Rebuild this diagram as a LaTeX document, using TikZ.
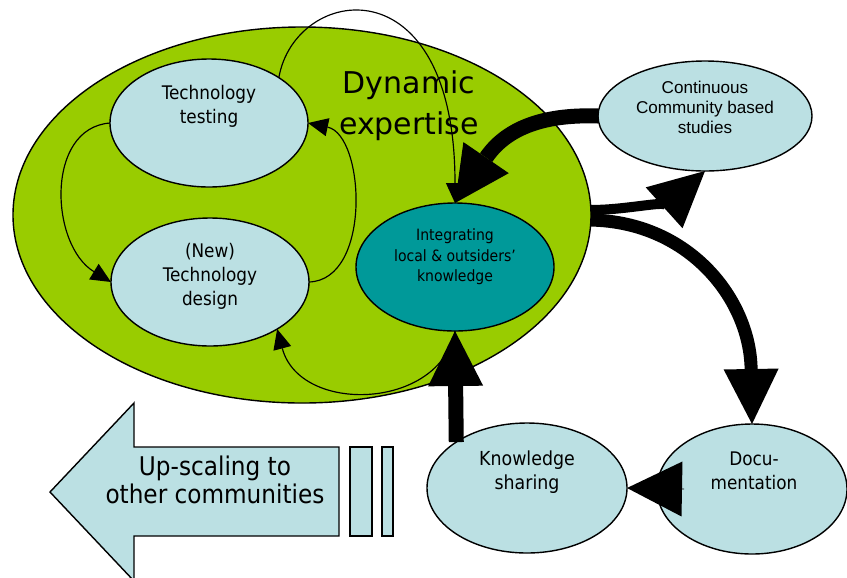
\documentclass[tikz,border=0pt]{standalone}
\usepackage{fontspec}
\setmainfont{DejaVu Sans Condensed}
\newfontfamily\dejavu{DejaVu Sans}
\newfontfamily\liber{Liberation Sans}
\usetikzlibrary{arrows.meta,shapes.geometric,calc}
\definecolor{leaf}{HTML}{99CC00}
\definecolor{ice}{HTML}{BBE0E3}
\definecolor{sea}{HTML}{009999}
\tikzset{
    bubble/.style = {ellipse,
                    fill=ice,
                    draw=black,
                    line width=1.2pt,
                    inner sep=0pt,
                    outer sep=0pt,
                    minimum width=5.94cm,
                    minimum height=3.84cm},
    txt/.style =    {align=center,
                    inner sep=0pt,
                    text=black},
    feed/.style =   {line width=1pt,
                    -{Triangle[length=0.6cm,width=0.55cm,line width=0pt]}},
    flow/.style =   {-{Triangle[length=1.65cm,width=1.65cm,line width=0pt]}},
    plate/.style =  {fill=ice,
                    draw=black,
                    line width=1.2pt}}

\begin{document}
\begin{tikzpicture}[x=0.03cm,y=-0.03cm]
    \useasboundingbox (0,0) rectangle (847,577);

    \node[bubble, fill=leaf, minimum width=17.34cm, minimum height=11.28cm] (Expert) at (302,215) {};
    \node[bubble]           (Test)   at (209,123) {};
    \node[bubble]           (Design) at (210,282) {};
    \node[bubble, fill=sea] (Integ)  at (455,267) {};
    \node[bubble, minimum width=6.42cm, minimum height=3.3cm] (Cont) at (705,116) {};
    \node[bubble, minimum width=6cm, minimum height=3.9cm]    (Share) at (527,488) {};
    \node[bubble, minimum width=5.7cm, minimum height=3.9cm]  (Docu)  at (752,489) {};

    % block arrow to the left, with its two bars
    \filldraw[plate] (50,492) -- (134,403) -- (134,447) -- (339,447) -- (339,536)
                     -- (134,536) -- (134,581) -- cycle;
    \filldraw[plate] (350,447) rectangle (372,536) (382,447) rectangle (393,536);

    \node[txt, font=\fontsize{16}{20.5}\selectfont]   (TestL)   at (209,106) {Technology\\testing};
    \node[txt, font=\fontsize{16}{20.5}\selectfont]   (DesignL) at (210,276) {(New)\\Technology\\design};
    \node[txt, font=\fontsize{13.3}{17.5}\selectfont] (IntegL)  at (455,257) {Integrating\\local \& outsiders’\\knowledge};
    \node[txt, font=\liber\fontsize{14.6}{17}\selectfont] (ContL) at (705,107) {Continuous\\Community based\\studies};
    \node[txt, font=\fontsize{16.5}{20.5}\selectfont] (ShareL)  at (527,472) {Knowledge\\sharing};
    \node[txt, font=\fontsize{16}{20.5}\selectfont]   (DocuL)   at (754,471) {Docu-\\mentation};
    \node[txt, font=\fontsize{22}{24.5}\selectfont]   (UpL)     at (215,480) {Up-scaling to\\other communities};
    \node[txt, font=\dejavu\fontsize{25.6}{35}\selectfont] (ExpertL) at (409,106) {Dynamic\\expertise};

    % cycle inside the expertise
    \draw[feed] (Test.west) .. controls (45,128) and (50,245) .. (Design.west);
    \draw[feed] (Design.east) .. controls (372,280) and (365,135) .. (Test.east);
    \draw[feed] (Test.33) .. controls (295,-15) and (455,-40) .. (Integ.north);
    \draw[feed] (Integ.south) .. controls (440,410) and (300,415) .. (Design.-35);

    % outer loop
    \draw[flow, line width=0.45cm] (Cont.west) .. controls (540,114) and (505,130) .. (Integ.north);
    \draw[flow, line width=0.3cm]  (Expert.1) .. controls (630,210) and (675,198) .. (Cont.south);
    \draw[flow, line width=0.39cm] (Expert.-1) .. controls (690,222) and (750,300) .. (Docu.north);
    \draw[flow, line width=0.5pt]  ($(Docu.west)+(27,0)$) -- (Share.east);
    \draw[flow, line width=0.45cm] (Share.147) -- (Integ.south);
\end{tikzpicture}
\end{document}
